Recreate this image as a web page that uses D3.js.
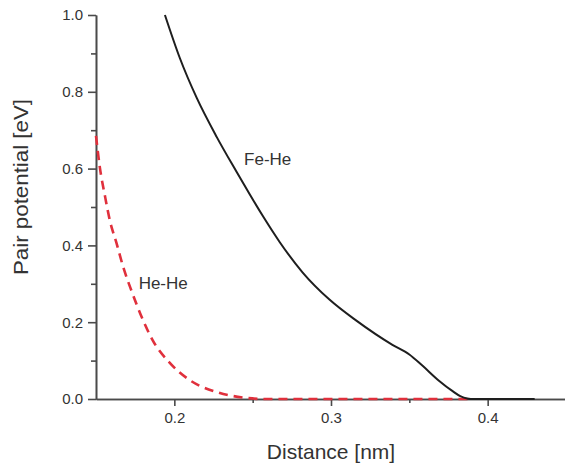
<!DOCTYPE html>
<html>
<head>
<meta charset="utf-8">
<script src="https://cdn.jsdelivr.net/npm/d3@7"></script>
<style>
  html, body { margin: 0; padding: 0; background: #fff; }
  svg { display: block; font-family: Arial, "Liberation Sans", Helvetica, sans-serif; }
</style>
</head>
<body>
<svg id="chart" width="565" height="464"></svg>
<script>
// Fe-He pair potential (solid black), distance in nm, energy in eV
const feHeX = [0.1940, 0.2035, 0.2143, 0.2271, 0.2398, 0.2481, 0.2564, 0.2672, 0.2818, 0.2990,
               0.3162, 0.3392, 0.3500, 0.3583, 0.3691, 0.3774, 0.3825, 0.3869, 0.3914, 0.4300];
const feHeY = [1.000, 0.888, 0.784, 0.682, 0.591, 0.533, 0.477, 0.409, 0.330, 0.259,
               0.204, 0.141, 0.116, 0.087, 0.047, 0.021, 0.0075, 0.0015, 0.000, 0.000];

// He-He pair potential (red dashed)
const heHeX = [0.1500, 0.1525, 0.1557, 0.1589, 0.1631, 0.1672, 0.1729, 0.1793, 0.1863, 0.1971,
               0.2099, 0.2271, 0.2436, 0.2576, 0.3880];
const heHeY = [0.685, 0.602, 0.529, 0.464, 0.406, 0.346, 0.279, 0.212, 0.152, 0.094,
               0.049, 0.018, 0.004, 0.000, 0.000];

// Axis ticks
const xMajorTicks = [0.2, 0.3, 0.4];
const xMinorTicks = [0.25, 0.35];
const yMajorTicks = [0.0, 0.2, 0.4, 0.6, 0.8, 1.0];
const yMinorTicks = [0.1, 0.3, 0.5, 0.7, 0.9];

// Text
const xTitle = "Distance [nm]";
const yTitle = "Pair potential [eV]";
const curveLabels = [
  { text: "Fe-He", x: 0.2596, y: 0.609 },
  { text: "He-He", x: 0.1929, y: 0.286 }
];

const svg = d3.select("#chart");
const plotLeft = 96, plotRight = 566, plotTop = 15, plotBottom = 399;

const x = d3.scaleLinear().domain([0.15, 0.45]).range([plotLeft, plotRight]);
const y = d3.scaleLinear().domain([0, 1.0]).range([plotBottom, plotTop]);

const axisColor = "#4a4a4a";
const textColor = "#333";

function styleAxis(g) {
  g.selectAll("path.domain").attr("stroke", axisColor).attr("stroke-width", 1.6);
  g.selectAll(".tick line").attr("stroke", axisColor).attr("stroke-width", 1.6);
  g.selectAll(".tick text").attr("fill", textColor).attr("font-size", 15);
}

// minor ticks first, then major axes with labels
svg.append("g")
  .attr("transform", `translate(0,${plotBottom})`)
  .call(d3.axisBottom(x).tickValues(xMinorTicks).tickSize(4).tickSizeOuter(0).tickFormat(""))
  .call(styleAxis);
svg.append("g")
  .attr("transform", `translate(${plotLeft},0)`)
  .call(d3.axisLeft(y).tickValues(yMinorTicks).tickSize(5).tickSizeOuter(0).tickFormat(""))
  .call(styleAxis);

svg.append("g")
  .attr("transform", `translate(0,${plotBottom})`)
  .call(d3.axisBottom(x).tickValues(xMajorTicks).tickSize(7).tickSizeOuter(0)
        .tickPadding(6).tickFormat(d3.format(".1f")))
  .call(styleAxis);
svg.append("g")
  .attr("transform", `translate(${plotLeft},0)`)
  .call(d3.axisLeft(y).tickValues(yMajorTicks).tickSize(8).tickSizeOuter(0)
        .tickPadding(5).tickFormat(d3.format(".1f")))
  .call(styleAxis);

// curves
const line = d3.line().x(d => x(d[0])).y(d => y(d[1])).curve(d3.curveMonotoneX);

svg.append("path")
  .datum(heHeX.map((v, i) => [v, heHeY[i]]))
  .attr("d", line)
  .attr("fill", "none")
  .attr("stroke", "#e0303c")
  .attr("stroke-width", 2.6)
  .attr("stroke-dasharray", "9,6");

svg.append("path")
  .datum(feHeX.map((v, i) => [v, feHeY[i]]))
  .attr("d", line)
  .attr("fill", "none")
  .attr("stroke", "#1e1e1e")
  .attr("stroke-width", 2);

// curve labels
svg.selectAll("text.curve-label")
  .data(curveLabels)
  .enter().append("text")
  .attr("class", "curve-label")
  .attr("x", d => x(d.x))
  .attr("y", d => y(d.y))
  .attr("text-anchor", "middle")
  .attr("font-size", 17)
  .attr("fill", textColor)
  .text(d => d.text);

// axis titles
svg.append("text")
  .attr("x", x(0.3))
  .attr("y", 459)
  .attr("text-anchor", "middle")
  .attr("font-size", 21)
  .attr("fill", textColor)
  .text(xTitle);

svg.append("text")
  .attr("transform", `translate(28,${(plotTop + plotBottom) / 2 - 20}) rotate(-90)`)
  .attr("text-anchor", "middle")
  .attr("font-size", 20)
  .attr("textLength", 176)
  .attr("lengthAdjust", "spacingAndGlyphs")
  .attr("fill", textColor)
  .text(yTitle);
</script>
</body>
</html>
